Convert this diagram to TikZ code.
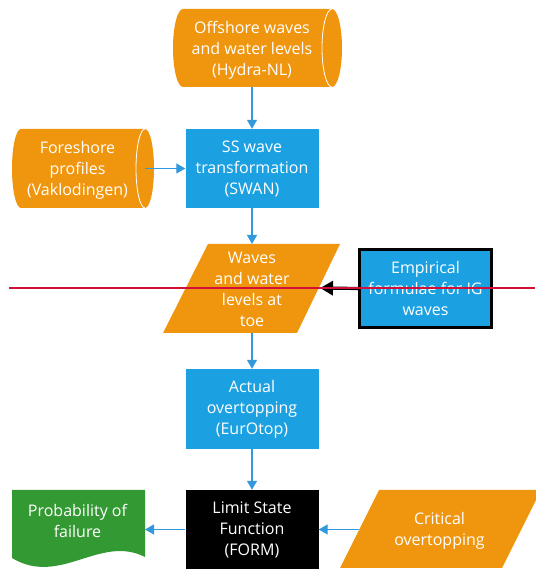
\documentclass[tikz,border=0pt]{standalone}
\usepackage{fontspec}
\setmainfont{Open Sans}
\usetikzlibrary{arrows.meta}
\definecolor{org}{HTML}{F0960E}
\definecolor{blu}{HTML}{1BA1E2}
\definecolor{grn}{HTML}{339933}
\definecolor{arrc}{HTML}{3399DD}
\definecolor{redl}{HTML}{D0103A}
\begin{document}
\begin{tikzpicture}[x=1pt,y=1pt,
 txt/.style={text=white, align=center, font=\fontsize{16}{21}\selectfont, inner sep=0pt},
 box/.style={txt, fill=blu, minimum width=133pt, minimum height=79pt},
 arr/.style={draw=arrc, line width=1.2pt, -{Triangle[length=9pt,width=10pt]}},
 blk/.style={draw=black, line width=3.2pt, -{Triangle[length=13pt,width=14pt]}},
]
\useasboundingbox (0,0) rectangle (535,569);
% offshore cylinder
\fill[org] (183,560) -- (332,560) arc[start angle=90,end angle=-90,x radius=10,y radius=39] -- (183,482) arc[start angle=270,end angle=90,x radius=10,y radius=39] -- cycle;
\draw[white, line width=0.8pt] (332,560) arc[start angle=90,end angle=270,x radius=10,y radius=39];
\node[txt] (off) at (252,519) {Offshore waves\\and water levels\\(Hydra-NL)};
% foreshore cylinder
\fill[org] (21,440) -- (145,440) arc[start angle=90,end angle=-90,x radius=9,y radius=39.5] -- (21,361) arc[start angle=270,end angle=90,x radius=9,y radius=39.5] -- cycle;
\draw[white, line width=0.8pt] (145,440) arc[start angle=90,end angle=270,x radius=9,y radius=39.5];
\node[txt] (fore) at (77.5,399) {Foreshore\\profiles\\(Vaklodingen)};
% SS wave box
\node[box] (ss) at (252,400.5) {SS wave\\transformation\\(SWAN)};
% waves parallelogram
\fill[org] (163,236) -- (297,236) -- (340,325) -- (208,325) -- cycle;
\node[txt] (wav) at (252,279.5) {Waves\\and water\\levels at\\toe};
% empirical
\node[box, draw=black, line width=2.5pt, minimum width=132pt, minimum height=78pt] (emp) at (425.5,280.5) {Empirical\\formulae for IG\\waves};
% actual overtopping
\node[box, minimum height=80pt] (act) at (252,160) {Actual\\overtopping\\(EurOtop)};
% limit state
\node[box, fill=black] (lim) at (252,39.5) {Limit State\\Function\\(FORM)};
% probability
\fill[grn] (12,79) -- (145,79) -- (145,12) .. controls (100,35) and (60,-18) .. (12,11) -- cycle;
\node[txt] (prob) at (77.5,48) {Probability of\\failure};
% critical
\fill[org] (340,1) -- (502,1) -- (541,79) -- (379,79) -- cycle;
\node[txt] (crit) at (439.5,38.5) {Critical\\overtopping};
% connector ends
\coordinate (offS) at (252,482);
\coordinate (foreE) at (145,400.5);
\coordinate (wavN) at (252,325);
\coordinate (wavE) at (320,281);
\coordinate (wavS) at (252,236);
\coordinate (probE) at (145,39.5);
\coordinate (critW) at (359,39.5);
\draw[arr] (offS) -- (ss.north);
\draw[arr] (foreE) -- (ss.west);
\draw[arr] (ss.south) -- (wavN);
\draw[blk] (emp.west) -- (wavE);
\draw[arr] (wavS) -- (act.north);
\draw[arr] (act.south) -- (lim.north);
\draw[arr] (lim.west) -- (probE);
\draw[arr] (critW) -- (lim.east);
% red line
\coordinate (rl1) at (9,281);
\coordinate (rl2) at (535,281);
\draw[redl, line width=1.2pt] (rl1) -- (rl2);
\end{tikzpicture}
\end{document}
